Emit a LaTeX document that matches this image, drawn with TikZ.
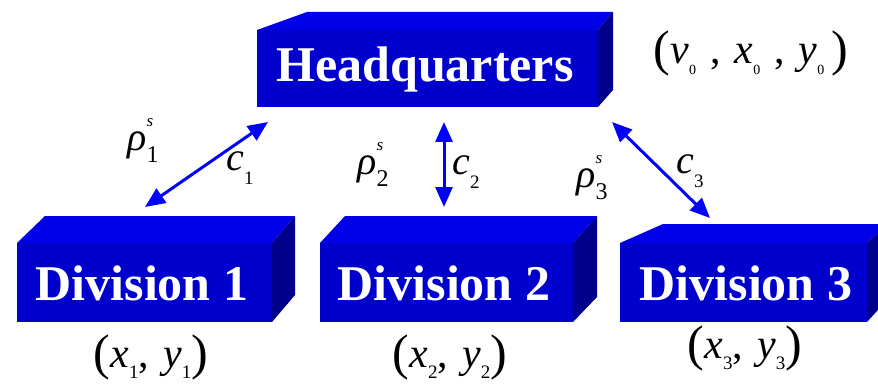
\documentclass[tikz,border=0pt]{standalone}
\usepackage{fontspec}
\setmainfont{Liberation Serif}[ItalicFont={Liberation Serif Italic},BoldFont={Liberation Serif Bold}]
\usetikzlibrary{arrows.meta}
\definecolor{frontc}{RGB}{0,0,204}
\definecolor{topc}{RGB}{0,0,232}
\definecolor{sidec}{RGB}{0,0,140}
\definecolor{arrc}{RGB}{0,0,255}
\newcommand\vsub[3][14]{\textit{#2}\raisebox{-0.28em}{\fontsize{#1}{#1}\selectfont #3}}
\newcommand\rholab[1]{\textit{ρ}\rlap{\raisebox{0.6em}{\fontsize{17}{17}\selectfont\textit{s}}}\raisebox{-0.3em}{\fontsize{24}{24}\selectfont #1}}
\newcommand\cvar[1]{\textit{c}\raisebox{-0.35em}{\fontsize{19}{19}\selectfont #1}}
\newcommand\bigp[1]{{\fontsize{50}{50}\selectfont\raisebox{-0.04em}{#1}}}
\begin{document}
\begin{tikzpicture}[x=1pt,y=-1pt,
  front/.style={fill=frontc,draw=none,inner sep=0pt,text=white,
    font=\fontsize{50}{50}\selectfont\bfseries},
  topface/.style={fill=topc},
  sideface/.style={fill=sidec},
  link/.style={draw=arrc,line width=3pt,{Triangle[length=20pt,width=17pt]}-{Triangle[length=20pt,width=17pt]}},
  lab/.style={inner sep=0pt,font=\fontsize{40}{40}\selectfont},
  coord/.style={inner sep=0pt,font=\fontsize{42}{42}\selectfont}]
\useasboundingbox (0,0) rectangle (878,385);
% Headquarters
\node[front,minimum width=341pt,minimum height=77pt] (hq) at (427.5,68.5) {};
\fill[topface] (257,30) -- (307,12) -- (613,12) -- (598,30) -- cycle;
\fill[sideface] (598,30) -- (613,12) -- (613,90) -- (598,107) -- cycle;
\node[front,fill=none] (hqt) at (425,69) {Headquarters};
% Division 1
\node[front,minimum width=255pt,minimum height=79pt] (d1) at (144.5,282.5) {};
\fill[topface] (17,243) -- (45,216) -- (295,216) -- (272,243) -- cycle;
\fill[sideface] (272,243) -- (295,216) -- (295,295) -- (272,322) -- cycle;
\node[front,fill=none] (d1t) at (142,283) {Division 1};
% Division 2
\node[front,minimum width=253pt,minimum height=79pt] (d2) at (446.5,282.5) {};
\fill[topface] (320,243) -- (345,216) -- (597,216) -- (573,243) -- cycle;
\fill[sideface] (573,243) -- (597,216) -- (597,297) -- (573,322) -- cycle;
\node[front,fill=none] (d2t) at (444,283) {Division 2};
% Division 3
\node[front,minimum width=247pt,minimum height=79pt] (d3) at (743.5,282.5) {};
\fill[topface] (620,243) -- (663,224) -- (887,224) -- (867,243) -- cycle;
\fill[sideface] (867,243) -- (887,224) -- (887,300) -- (867,322) -- cycle;
\node[front,fill=none] (d3t) at (746,283) {Division 3};
% arrow end points
\coordinate (a1h) at (268,122);
\coordinate (a1d) at (145,207);
\coordinate (a2h) at (444,122);
\coordinate (a2d) at (444,207);
\coordinate (a3h) at (612,122);
\coordinate (a3d) at (710,218);
\draw[link] (a1h) -- (a1d);
\draw[link] (a2h) -- (a2d);
\draw[link] (a3h) -- (a3d);
% labels
\node[lab] (r1) at (143,140) {\rholab{1}};
\node[lab] (c1) at (240,168) {\cvar{1}};
\node[lab] (r2) at (373,164) {\rholab{2}};
\node[lab] (c2) at (466,172) {\cvar{2}};
\node[lab] (r3) at (592,178) {\rholab{3}};
\node[lab] (c3) at (690,171) {\cvar{3}};
\node[coord] (hqc) at (751,53) {\bigp{(}\vsub{v}{0}\,\,,\,\,\vsub{x}{0}\,\,,\,\,\vsub{y}{0}\,\bigp{)}};
\node[coord] (d1c) at (151,357) {\bigp{(}\vsub[19]{x}{1},\,\,\vsub[19]{y}{1}\bigp{)}};
\node[coord] (d2c) at (450,357) {\bigp{(}\vsub[19]{x}{2},\,\,\vsub[19]{y}{2}\bigp{)}};
\node[coord] (d3c) at (745,348) {\bigp{(}\vsub[19]{x}{3},\,\,\vsub[19]{y}{3}\bigp{)}};
\end{tikzpicture}
\end{document}
